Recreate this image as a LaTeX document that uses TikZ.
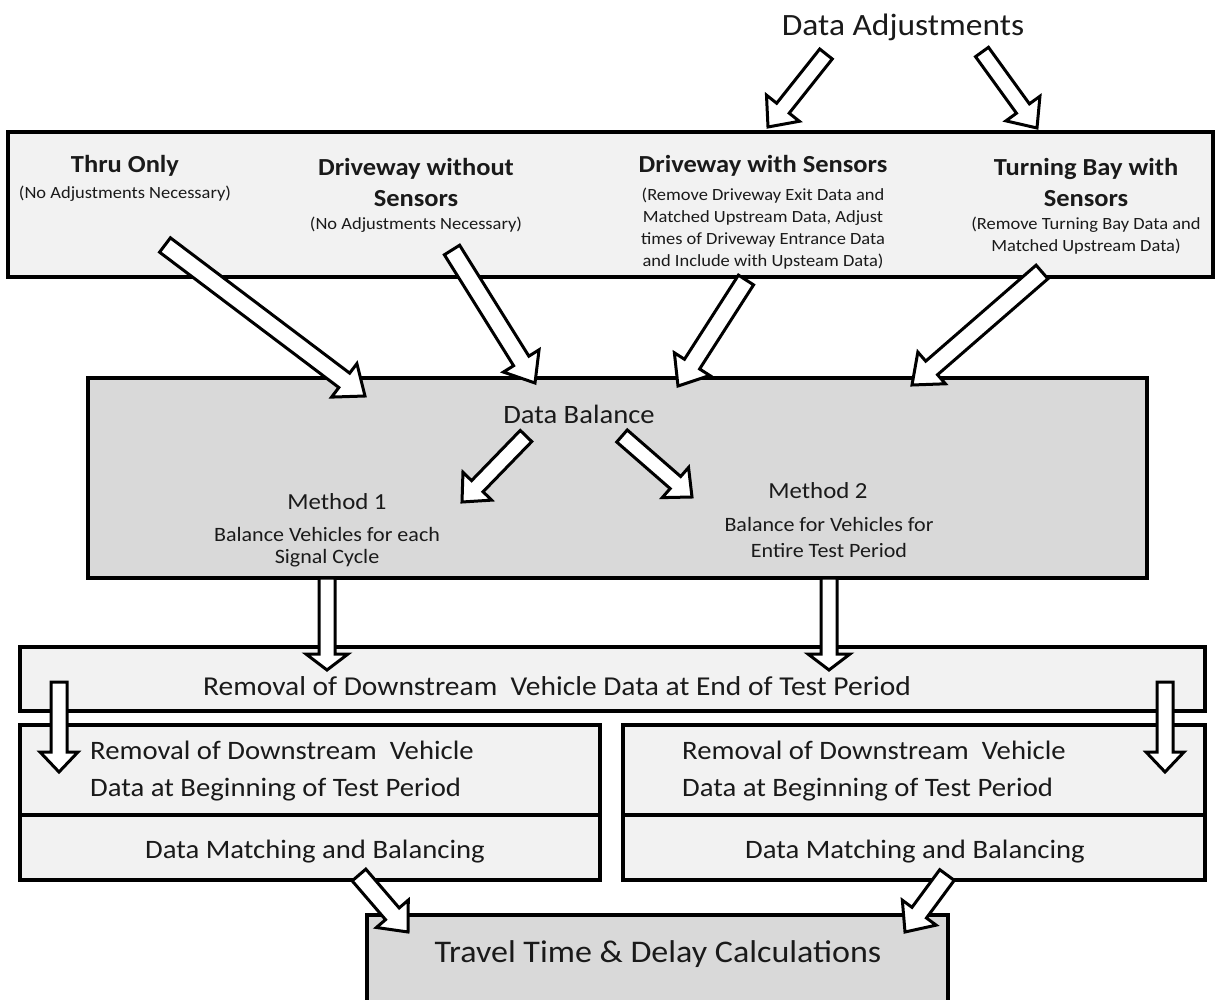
\documentclass[tikz,border=0pt]{standalone}
\usepackage{fontspec}
\setmainfont{Carlito}[FakeStretch=1.08]
\usetikzlibrary{calc}
\definecolor{lightbox}{HTML}{F2F2F2}
\definecolor{midbox}{HTML}{D9D9D9}
\definecolor{txtcol}{HTML}{1A1A1A}
% #1 tail, #2 tip, #3 half shaft width, #4 half head width, #5 head length
\newcommand\blockarrow[5]{%
  \coordinate (bAbase) at ($(#2)!#5!(#1)$);
  \draw[barrow] ($(#1)!#3!90:(#2)$) -- ($(bAbase)!#3!90:(#2)$) -- ($(bAbase)!#4!90:(#2)$) -- (#2)
    -- ($(bAbase)!#4!-90:(#2)$) -- ($(bAbase)!#3!-90:(#2)$) -- ($(#1)!#3!-90:(#2)$) -- cycle;}
\begin{document}
\begin{tikzpicture}[x=1pt,y=-1pt,
  box/.style={draw=black, line width=3.5pt, rectangle, inner sep=0pt},
  lbox/.style={box, fill=lightbox},
  mbox/.style={box, fill=midbox},
  barrow/.style={draw=black, fill=white, line width=3pt, line join=miter},
  txt/.style={text=txtcol, inner sep=0pt, align=center},
  head/.style={txt, font=\fontsize{24.5}{31}\selectfont\bfseries},
  note/.style={txt, font=\fontsize{17.1}{22}\selectfont},
  title/.style={txt, font=\fontsize{31}{36}\selectfont},
  meth/.style={txt, font=\fontsize{23}{28}\selectfont},
  methn/.style={txt, font=\fontsize{20.4}{26}\selectfont},
  body/.style={txt, font=\fontsize{26.6}{37}\selectfont},
]
\useasboundingbox (0,0) rectangle (1219,1000);
\clip (0,0) rectangle (1219,1000);

% boxes
\node[lbox, minimum width=1205pt, minimum height=145pt] (top) at (610.5,204.5) {};
\node[mbox, minimum width=1059pt, minimum height=200pt] (bal) at (617.5,478) {};
\node[lbox, minimum width=1185pt, minimum height=64pt] (endb) at (612.5,679) {};
\node[lbox, minimum width=580pt, minimum height=90pt] (lla) at (310,770) {};
\node[lbox, minimum width=580pt, minimum height=65pt] (llb) at (310,847.5) {};
\node[lbox, minimum width=582pt, minimum height=90pt] (lra) at (914,770) {};
\node[lbox, minimum width=582pt, minimum height=65pt] (lrb) at (914,847.5) {};
\node[mbox, minimum width=581pt, minimum height=100pt] (trav) at (657.5,965) {};

% texts
\node[title] (adj) at (903,27) {Data Adjustments};
\node[head] (thru) at (125,166) {Thru Only};
\node[note] (thrun) at (125,194) {(No Adjustments Necessary)};
\node[head] (dwo) at (416,182) {Driveway without\\Sensors};
\node[note] (dwon) at (416,225) {(No Adjustments Necessary)};
\node[head] (dws) at (763,166) {Driveway with Sensors};
\node[note] (dwsn) at (763,229) {(Remove Driveway Exit Data and\\Matched Upstream Data, Adjust\\times of Driveway Entrance Data\\and Include with Upsteam Data)};
\node[head] (tb) at (1086,182) {Turning Bay with\\Sensors};
\node[note] (tbn) at (1086,236) {(Remove Turning Bay Data and\\Matched Upstream Data)};

\node[txt, font=\fontsize{26.5}{30}\selectfont, anchor=base] (db) at (579,424) {Data Balance};
\node[meth, anchor=base] (m1) at (337,509) {Method 1};
\node[methn, font=\fontsize{20.4}{22}\selectfont] (m1n) at (327,547) {Balance Vehicles for each\\Signal Cycle};
\node[meth, anchor=base] (m2) at (818,498) {Method 2};
\node[methn] (m2n) at (829,537) {Balance for Vehicles for\\Entire Test Period};

\node[txt, font=\fontsize{27.3}{30}\selectfont] (endt) at (557,686) {Removal of Downstream\ \ Vehicle Data at End of Test Period};
\node[body, align=left, anchor=west] (llt) at (90,771) {Removal of Downstream\ \ Vehicle\\Data at Beginning of Test Period};
\node[body, align=left, anchor=west] (lrt) at (682,771) {Removal of Downstream\ \ Vehicle\\Data at Beginning of Test Period};
\node[body] (llbt) at (315,852) {Data Matching and Balancing};
\node[body] (lrbt) at (915,852) {Data Matching and Balancing};
\node[txt, font=\fontsize{31.5}{34}\selectfont] (travt) at (658,954) {Travel Time \& Delay Calculations};

% arrow end points
\coordinate (da1s) at (826,54);   \coordinate (da1e) at (768,127);
\coordinate (da2s) at (982,52);   \coordinate (da2e) at (1037,128);
\coordinate (a1s) at (165,245);   \coordinate (a1e) at (365,396);
\coordinate (a2s) at (452,250);   \coordinate (a2e) at (535,383);
\coordinate (a3s) at (746,280);   \coordinate (a3e) at (678,386);
\coordinate (a4s) at (1042,272);  \coordinate (a4e) at (912,385);
\coordinate (b1s) at (526,436);   \coordinate (b1e) at (462,502);
\coordinate (b2s) at (622,436);   \coordinate (b2e) at (692,497);
\coordinate (v1s) at (327,578);   \coordinate (v1e) at (327,670);
\coordinate (v2s) at (829,578);   \coordinate (v2e) at (829,670);
\coordinate (vls) at (59,682);    \coordinate (vle) at (59,772);
\coordinate (vrs) at (1165,682);  \coordinate (vre) at (1165,772);
\coordinate (t1s) at (359,875);   \coordinate (t1e) at (408,932);
\coordinate (t2s) at (947,875);   \coordinate (t2e) at (905,932);

% arrows
\blockarrow{da1s}{da1e}{8pt}{21pt}{24pt}
\blockarrow{da2s}{da2e}{8pt}{21pt}{24pt}
\blockarrow{a1s}{a1e}{9pt}{21pt}{26pt}
\blockarrow{a2s}{a2e}{9pt}{21pt}{26pt}
\blockarrow{a3s}{a3e}{9pt}{21pt}{26pt}
\blockarrow{a4s}{a4e}{9pt}{21pt}{26pt}
\blockarrow{b1s}{b1e}{8pt}{20pt}{22pt}
\blockarrow{b2s}{b2e}{8pt}{20pt}{22pt}
\blockarrow{v1s}{v1e}{8pt}{21pt}{16pt}
\blockarrow{v2s}{v2e}{8pt}{21pt}{16pt}
\blockarrow{vls}{vle}{8pt}{19pt}{20pt}
\blockarrow{vrs}{vre}{8pt}{19pt}{20pt}
\blockarrow{t1s}{t1e}{9pt}{21pt}{24pt}
\blockarrow{t2s}{t2e}{9pt}{21pt}{24pt}
\end{tikzpicture}
\end{document}
